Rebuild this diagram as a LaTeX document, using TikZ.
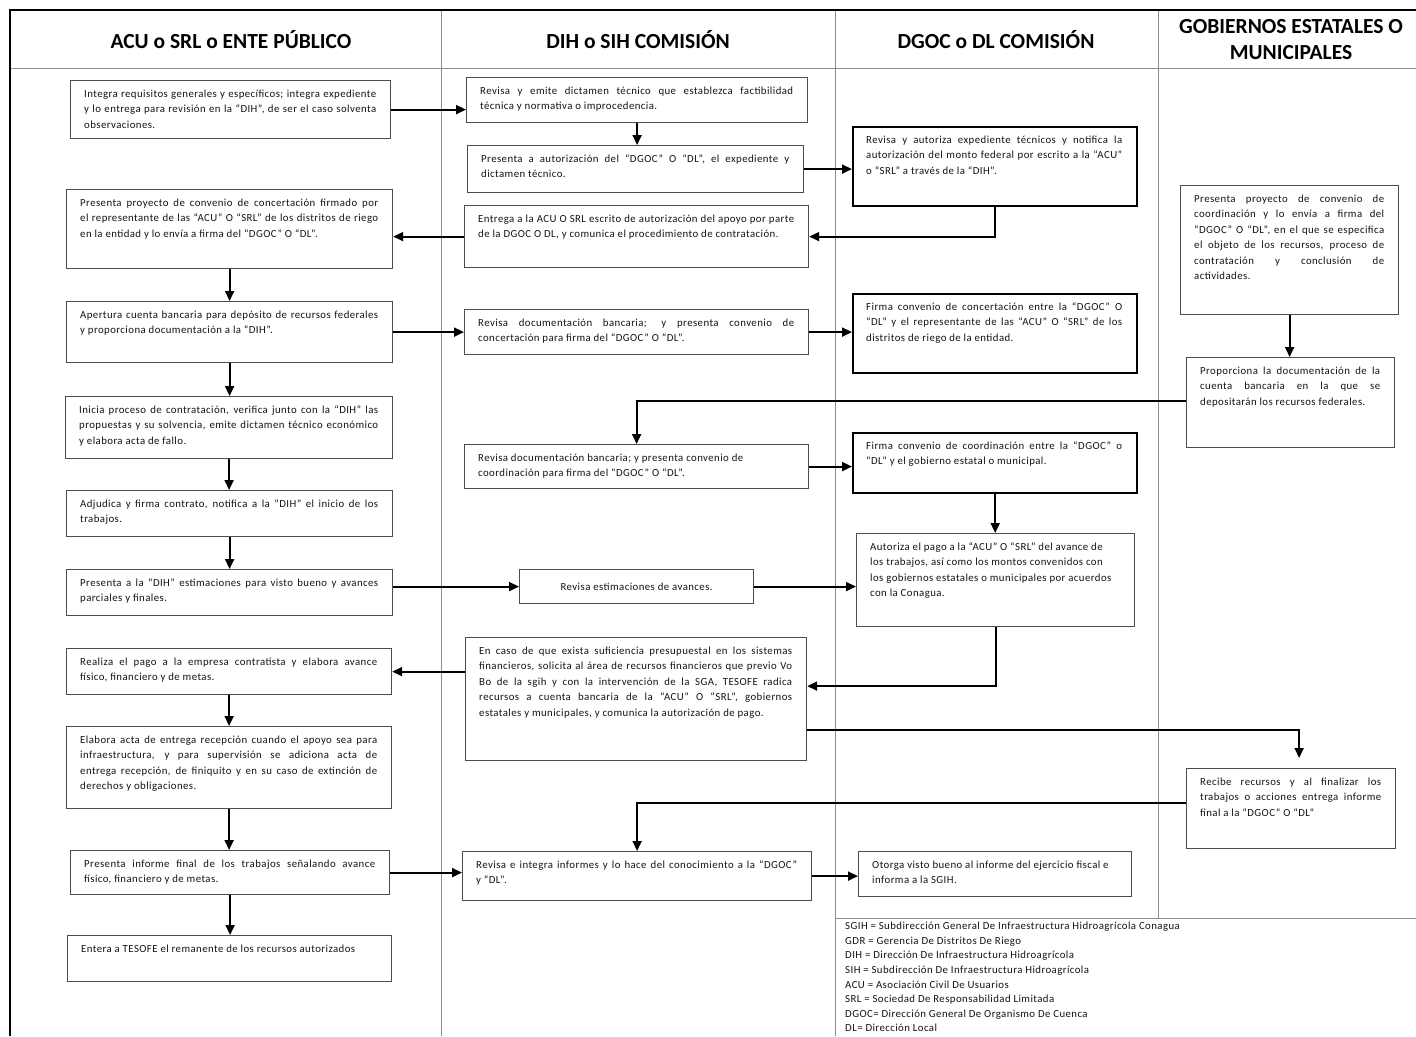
\documentclass[tikz,border=0pt]{standalone}
\usepackage{fontspec}
\setmainfont{Carlito}
\newfontfamily\bodyf[LetterSpace=4]{Carlito}
\newfontfamily\hdrf[LetterSpace=0]{Carlito}
\usetikzlibrary{arrows.meta,calc}
\tikzset{
  boxst/.style={draw=black!70, line width=1.2pt, inner sep=0pt, fill=white},
  thickbox/.style={draw=black, line width=2.4pt},
  txt/.style={inner sep=0pt, align=justify, text=black!92, font=\bodyf\fontsize{10.8}{15.5}\selectfont},
  hdr/.style={inner sep=0pt, align=center, text=black, font=\hdrf\fontsize{21.5}{26}\selectfont\bfseries},
  conn/.style={draw=black, line width=1.8pt, -{Triangle[length=10pt,width=9pt]}},
  frame/.style={draw=black!45, line width=0.8pt}
}
\newcommand\bx[7][]{%
  \pgfmathsetmacro\bxw{#5-#3}%
  \pgfmathsetmacro\bxh{#6-#4}%
  \pgfmathsetmacro\bxtw{#5-#3-28}%
  \node[boxst,#1,minimum width=\bxw pt,minimum height=\bxh pt,anchor=north west] (#2) at (#3,#4) {};
  \node[txt,text width=\bxtw pt,anchor=north west] (#2t) at (#3+14,#4+9) {\rule{0pt}{8pt}#7};
}
\begin{document}
\begin{tikzpicture}[x=1pt,y=-1pt]
\useasboundingbox[fill=white] (0,0) rectangle (1416,1036);
% frame
\draw[frame] (10,68) -- (1416,68);
\draw[frame] (441,10) -- (441,1036);
\draw[frame] (835,10) -- (835,1036);
\draw[frame] (1158,10) -- (1158,918);
\draw[frame] (835,918) -- (1416,918);
\draw[black, line width=2.6pt] (10,1036) -- (10,10) -- (1416,10);
% headers
\node[hdr] (h1) at (231,40) {ACU o SRL o ENTE PÚBLICO};
\node[hdr] (h2) at (638,40) {DIH o SIH COMISIÓN};
\node[hdr] (h3) at (996,40) {DGOC o DL COMISIÓN};
\node[hdr] (h4) at (1291,40) {GOBIERNOS ESTATALES O\\MUNICIPALES};
% column 1
\bx{A1}{70}{80}{390}{138}{Integra requisitos generales y específicos; integra expediente\linebreak y lo entrega para revisión en la “DIH”, de ser el caso solventa\linebreak observaciones.}
\bx{A2}{66}{189}{392}{268}{Presenta proyecto de convenio de concertación firmado por\linebreak el representante de las “ACU” O “SRL” de los distritos de riego\linebreak en la entidad y lo envía a firma del “DGOC” O “DL”.}
\bx{A3}{66}{301}{392}{362}{Apertura cuenta bancaria para depósito de recursos federales\linebreak y proporciona documentación a la “DIH”.}
\bx{A4}{65}{396}{392}{458}{Inicia proceso de contratación, verifica junto con la “DIH” las\linebreak propuestas y su solvencia, emite dictamen técnico económico\linebreak y elabora acta de fallo.}
\bx{A5}{66}{490}{392}{536}{Adjudica y firma contrato, notifica a la “DIH” el inicio de los\linebreak trabajos.}
\bx{A6}{66}{569}{392}{615}{Presenta a la “DIH” estimaciones para visto bueno y avances\linebreak parciales y finales.}
\bx{A7}{66}{648}{391}{694}{Realiza el pago a la empresa contratista y elabora avance\linebreak físico, financiero y de metas.}
\bx{A8}{66}{726}{391}{808}{Elabora acta de entrega recepción cuando el apoyo sea para\linebreak infraestructura, y para supervisión se adiciona acta de\linebreak entrega recepción, de finiquito y en su caso de extinción de\linebreak derechos y obligaciones.}
\bx{A9}{70}{850}{389}{894}{Presenta informe final de los trabajos señalando avance\linebreak físico, financiero y de metas.}
\bx{A10}{67}{935}{391}{981}{Entera a TESOFE el remanente de los recursos autorizados}
% column 2
\bx{B1}{466}{77}{807}{122}{Revisa y emite dictamen técnico que establezca factibilidad\linebreak técnica y normativa o improcedencia.}
\bx{B2}{467}{145}{803}{192}{Presenta a autorización del “DGOC” O “DL”, el expediente y\linebreak dictamen técnico.}
\bx{B3}{464}{205}{808}{267}{Entrega a la ACU O SRL escrito de autorización del apoyo por parte\linebreak de la DGOC O DL, y comunica el procedimiento de contratación.}
\bx{B4}{464}{309}{808}{354}{Revisa documentación bancaria; y presenta convenio de\linebreak concertación para firma del “DGOC” O “DL”.}
\bx{B5}{464}{444}{808}{488}{Revisa documentación bancaria; y presenta convenio de\newline coordinación para firma del “DGOC” O “DL”.}
\node[boxst,minimum width=234pt,minimum height=34pt,anchor=north west] (B6) at (519,569) {};
\node[txt,anchor=center] (B6t) at (B6.center) {Revisa estimaciones de avances.};
\bx{B7}{465}{637}{806}{760}{En caso de que exista suficiencia presupuestal en los sistemas\linebreak financieros, solicita al área de recursos financieros que previo Vo\linebreak Bo de la sgih y con la intervención de la SGA, TESOFE radica\linebreak recursos a cuenta bancaria de la “ACU” O “SRL”, gobiernos\linebreak estatales y municipales, y comunica la autorización de pago.}
\bx{B8}{462}{851}{811}{900}{Revisa e integra informes y lo hace del conocimiento a la “DGOC”\linebreak y “DL”.}
% column 3
\bx[thickbox]{C1}{852}{126}{1136}{205}{Revisa y autoriza expediente técnicos y notifica la\linebreak autorización del monto federal por escrito a la “ACU”\linebreak o “SRL” a través de la “DIH”.}
\bx[thickbox]{C2}{852}{293}{1136}{372}{Firma convenio de concertación entre la “DGOC” O\linebreak “DL” y el representante de las “ACU” O “SRL” de los\linebreak distritos de riego de la entidad.}
\bx[thickbox]{C3}{852}{432}{1136}{492}{Firma convenio de coordinación entre la “DGOC” o\linebreak “DL” y el gobierno estatal o municipal.}
\bx{C4}{856}{533}{1134}{626}{Autoriza el pago a la “ACU” O “SRL” del avance de\newline los trabajos, así como los montos convenidos con\newline los gobiernos estatales o municipales por acuerdos\newline con la Conagua.}
\bx{C5}{858}{851}{1131}{896}{Otorga visto bueno al informe del ejercicio fiscal e\newline informa a la SGIH.}
% column 4
\bx{D1}{1180}{185}{1398}{314}{Presenta proyecto de convenio de\linebreak coordinación y lo envía a firma del\linebreak “DGOC” O “DL”, en el que se especifica\linebreak el objeto de los recursos, proceso de\linebreak contratación y conclusión de\linebreak actividades.}
\bx{D2}{1186}{357}{1394}{447}{Proporciona la documentación de la\linebreak cuenta bancaria en la que se\linebreak depositarán los recursos federales.}
\bx{D3}{1186}{768}{1395}{848}{Recibe recursos y al finalizar los\linebreak trabajos o acciones entrega informe\linebreak final a la “DGOC” O “DL”}
% legend
\node[inner sep=0pt, align=left, anchor=north west, text=black!92, font=\bodyf\fontsize{10.8}{14.6}\selectfont] (leg) at (845,922) {\rule{0pt}{7pt}SGIH = Subdirección General De Infraestructura Hidroagrícola Conagua\\
GDR = Gerencia De Distritos De Riego\\
DIH = Dirección De Infraestructura Hidroagrícola\\
SIH = Subdirección De Infraestructura Hidroagrícola\\
ACU = Asociación Civil De Usuarios\\
SRL = Sociedad De Responsabilidad Limitada\\
DGOC= Dirección General De Organismo De Cuenca\\
DL= Dirección Local};
% connectors
\draw[conn] (A1.east) -- (A1.east -| B1.west);
\draw[conn] (B1.south) -- (B1.south |- B2.north);
\draw[conn] (B2.east) -- (B2.east -| C1.west);
\draw[conn] (C1.south) |- (B3.east);
\draw[conn] (B3.west) -- (B3.west -| A2.east);
\draw[conn] (A2.south) -- (A2.south |- A3.north);
\draw[conn] (A3.east) -- (A3.east -| B4.west);
\draw[conn] (B4.east) -- (B4.east -| C2.west);
\draw[conn] (D1.south) -- (D1.south |- D2.north);
\draw[conn] ([yshift=2pt]D2.west) -| (B5.north);
\draw[conn] (A3.south) -- (A3.south |- A4.north);
\draw[conn] (A4.south) -- (A4.south |- A5.north);
\draw[conn] (B5.east) -- (B5.east -| C3.west);
\draw[conn] (C3.south) -- (C3.south |- C4.north);
\draw[conn] (A5.south) -- (A5.south |- A6.north);
\draw[conn] (A6.east |- B6.west) -- (B6.west);
\draw[conn] (B6.east) -- (B6.east -| C4.west);
\draw[conn] (C4.south) |- ([yshift=13pt]B7.east);
\draw[conn] (B7.west |- A7.east) -- (A7.east);
\draw[conn] (A7.south) -- (A7.south |- A8.north);
\draw[conn, shorten >=10pt] ([yshift=-31pt]B7.east) -| ([xshift=8pt]D3.north);
\draw[conn] ([yshift=6pt]D3.west) -| (B8.north);
\draw[conn] (A8.south) -- (A8.south |- A9.north);
\draw[conn] (A9.east) -- (A9.east -| B8.west);
\draw[conn] (B8.east) -- (B8.east -| C5.west);
\draw[conn] (A9.south) -- (A9.south |- A10.north);
\end{tikzpicture}
\end{document}
